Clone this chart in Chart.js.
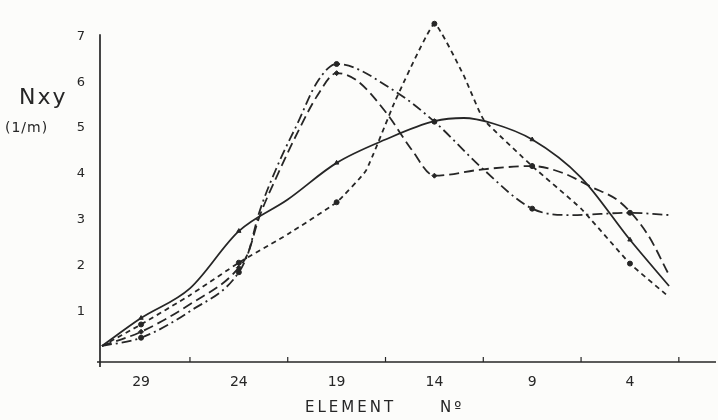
<!DOCTYPE html>
<html>
<head>
<meta charset="utf-8">
<script src="https://cdn.jsdelivr.net/npm/chart.js@4.4.1/dist/chart.umd.min.js"></script>
<style>
  html, body { margin: 0; padding: 0; background: #fcfcfa; }
  #wrap { width: 718px; height: 420px; position: relative; }
</style>
</head>
<body>
<div id="wrap"><canvas id="nxy"></canvas></div>
<script>
// Nxy (1/m) against element number, four load cases
const solidEl  = [31, 29, 26.5, 24, 21.5, 19, 16.5, 14, 12.5, 11, 9, 6.5, 4, 2];
const solidVal = [0.24, 0.85, 1.5, 2.75, 3.44, 4.24, 4.75, 5.15, 5.22, 5.1, 4.75, 3.92, 2.56, 1.55];

const shortEl  = [31, 29, 26.5, 24, 21.5, 19, 17.5, 16, 14, 12.5, 11.5, 9, 6.5, 4, 2];
const shortVal = [0.24, 0.71, 1.35, 2.06, 2.68, 3.38, 4.07, 5.6, 7.28, 6.15, 5.2, 4.17, 3.24, 2.04, 1.31];

const longEl  = [31, 29, 26.5, 24, 23.5, 23, 22, 21, 20, 19, 18, 16.4, 15.2, 14, 11.5, 9, 7.5, 6, 4.5, 3.1, 2];
const longVal = [0.24, 0.55, 1.15, 1.95, 2.3, 3.0, 4.0, 4.9, 5.7, 6.2, 6.05, 5.3, 4.55, 3.96, 4.1, 4.17, 4.03, 3.72, 3.38, 2.68, 1.79];

const dashDotEl  = [31, 29, 26.5, 24, 23.5, 23, 22, 21, 20, 19, 16, 14, 11.5, 9, 7, 4, 2];
const dashDotVal = [0.24, 0.42, 1.0, 1.85, 2.3, 3.1, 4.2, 5.1, 6.0, 6.4, 5.8, 5.14, 4.1, 3.24, 3.1, 3.15, 3.1];

const markedElements = [29, 24, 19, 14, 9, 4];
const xTickLabels = [29, 24, 19, 14, 9, 4];
const xTickMarks = [26.5, 21.5, 16.5, 11.5, 6.5, 1.5];
const yTickLabels = [1, 2, 3, 4, 5, 6, 7];

const ink = "#262626";

function toPoints(els, vals) {
  return els.map((e, i) => ({ x: e, y: vals[i] }));
}

function markerRadius(size) {
  return function(ctx) {
    const p = ctx.raw;
    return p && markedElements.includes(p.x) ? size : 0;
  };
}

const curves = [
  { label: "a", data: toPoints(solidEl, solidVal), dash: [], style: "triangle", mode: "monotone", tension: 0.4 },
  { label: "b", data: toPoints(shortEl, shortVal), dash: [5, 4], style: "circle", mode: "default", tension: 0.12 },
  { label: "c", data: toPoints(longEl, longVal), dash: [10, 5], style: "rectRot", mode: "monotone", tension: 0.4 },
  { label: "d", data: toPoints(dashDotEl, dashDotVal), dash: [10, 4, 2, 4], style: "circle", mode: "monotone", tension: 0.4 }
];

// axis lines, half-step ticks and hand-lettered titles
const paperAxes = {
  id: "paperAxes",
  afterDraw(chart) {
    const { ctx, scales: { x, y } } = chart;
    const y0 = y.getPixelForValue(-0.11);
    const x0 = x.getPixelForValue(31.1);
    ctx.save();
    ctx.strokeStyle = ink;
    ctx.lineWidth = 1.7;
    ctx.beginPath();
    ctx.moveTo(x0, y.getPixelForValue(7.05));
    ctx.lineTo(x0, y0 + 5);
    ctx.moveTo(x0 - 3, y0);
    ctx.lineTo(x.getPixelForValue(-0.4), y0);
    ctx.stroke();

    ctx.lineWidth = 1.2;
    xTickMarks.forEach(v => {
      const px = x.getPixelForValue(v);
      ctx.beginPath();
      ctx.moveTo(px, y0);
      ctx.lineTo(px, y0 - 5);
      ctx.stroke();
    });

    ctx.fillStyle = ink;
    ctx.textBaseline = "alphabetic";
    ctx.font = "22px 'DejaVu Sans'";
    ctx.letterSpacing = "2px";
    ctx.fillText("Nxy", 19, 104);
    ctx.font = "14px 'DejaVu Sans'";
    ctx.letterSpacing = "1px";
    ctx.fillText("(1/m)", 5, 132);
    ctx.font = "15px 'DejaVu Sans'";
    ctx.letterSpacing = "3px";
    ctx.fillText("ELEMENT", 305, 412);
    ctx.fillText("Nº", 440, 412);
    ctx.restore();
  }
};

new Chart(document.getElementById("nxy"), {
  type: "line",
  data: {
    datasets: curves.map(c => ({
      label: c.label,
      data: c.data,
      borderColor: ink,
      borderWidth: 1.8,
      borderDash: c.dash,
      backgroundColor: ink,
      pointStyle: c.style,
      pointRadius: markerRadius(2.5),
      pointBorderWidth: 1,
      pointBorderColor: ink,
      pointBackgroundColor: ink,
      cubicInterpolationMode: c.mode,
      tension: c.tension,
      fill: false,
      clip: false
    }))
  },
  options: {
    responsive: true,
    maintainAspectRatio: false,
    animation: false,
    layout: { padding: { top: 4, right: 2, left: 0, bottom: 0 } },
    plugins: {
      legend: { display: false },
      tooltip: { enabled: false }
    },
    scales: {
      x: {
        type: "linear",
        reverse: true,
        min: -0.4,
        max: 31.1,
        afterFit: s => { s.height = 58; },
        afterBuildTicks: s => { s.ticks = xTickLabels.map(v => ({ value: v })); },
        border: { display: false },
        grid: { display: false, drawTicks: false },
        ticks: {
          color: ink,
          padding: 12,
          font: { family: "'DejaVu Sans'", size: 14 },
          maxRotation: 0
        }
      },
      y: {
        type: "linear",
        min: -0.11,
        max: 7.3,
        afterFit: s => { s.width = 100; },
        afterBuildTicks: s => { s.ticks = yTickLabels.map(v => ({ value: v })); },
        border: { display: false },
        grid: { display: false, drawTicks: false },
        ticks: {
          color: ink,
          padding: 15,
          font: { family: "'DejaVu Sans'", size: 13 }
        }
      }
    }
  },
  plugins: [paperAxes]
});
</script>
</body>
</html>
